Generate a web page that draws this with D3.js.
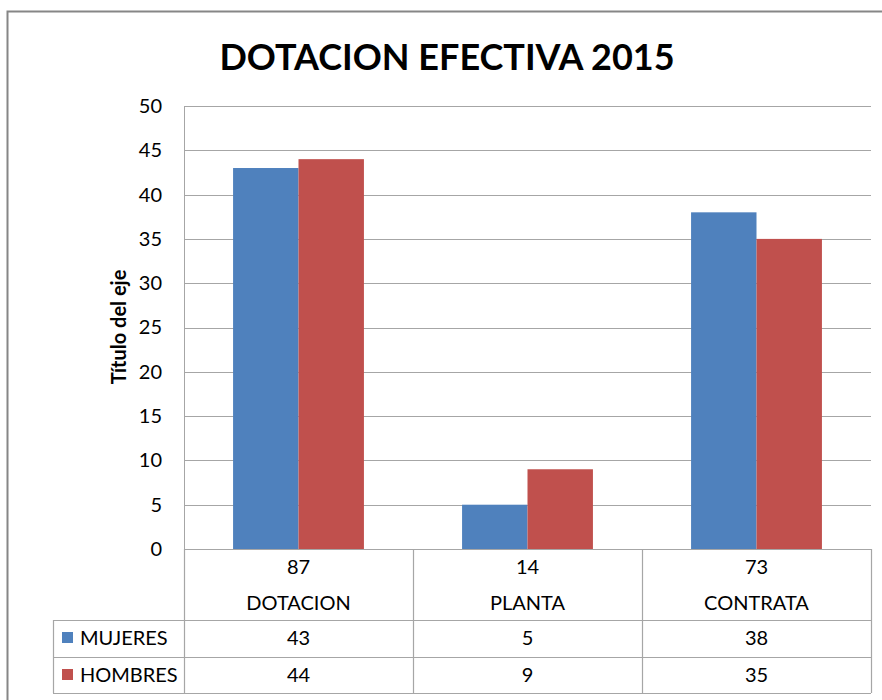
<!DOCTYPE html>
<html>
<head>
<meta charset="utf-8">
<script src="https://cdn.jsdelivr.net/npm/d3@7"></script>
<style>
  body { margin: 0; background: #fff; }
  text { font-family: Lato, "Open Sans", sans-serif; fill: #000; }
</style>
</head>
<body>
<svg></svg>
<script>
const categories = ['DOTACION', 'PLANTA', 'CONTRATA'];
const totals = [87, 14, 73];
const seriesNames = ['MUJERES', 'HOMBRES'];
const mujeres = [43, 5, 38];
const hombres = [44, 9, 35];
const yTicks = [0, 5, 10, 15, 20, 25, 30, 35, 40, 45, 50];
const colors = ['#4F81BD', '#C0504D'];

const W = 882, H = 700;
const plot = {l: 184, r: 871, t: 106, b: 549};
const rows = {head: 620, r1: 657, r2: 693, legL: 53};

const svg = d3.select('svg')
    .attr('width', W)
    .attr('height', H);

// outer frame
svg.append('rect')
    .attr('x', 7.5).attr('y', 11.5)
    .attr('width', W + 10).attr('height', H + 10)
    .attr('fill', 'none')
    .attr('stroke', '#868686')
    .attr('stroke-width', 2);

svg.append('text')
    .attr('x', 447).attr('y', 70)
    .attr('text-anchor', 'middle')
    .style('font-size', '36px')
    .style('font-weight', 'bold')
    .text('DOTACION EFECTIVA 2015');

const scaleY = d3.scaleLinear()
    .domain([0, 50])
    .range([plot.b, plot.t]);

const scaleX = d3.scaleBand()
    .domain(categories)
    .range([plot.l, plot.r]);

const scaleS = d3.scaleBand()
    .domain(seriesNames)
    .range([0, scaleX.bandwidth()])
    .paddingOuter(0.75);

// gridlines
svg.append('g')
    .selectAll('line')
    .data(yTicks)
    .join('line')
    .attr('x1', plot.l).attr('x2', plot.r)
    .attr('y1', d => Math.round(scaleY(d)) + 0.5)
    .attr('y2', d => Math.round(scaleY(d)) + 0.5)
    .attr('stroke', '#a6a6a6')
    .attr('stroke-width', 1.2);

svg.append('line')
    .attr('x1', plot.l + 0.5).attr('x2', plot.l + 0.5)
    .attr('y1', plot.t).attr('y2', plot.b)
    .attr('stroke', '#a6a6a6');

// y axis labels
let axisY = d3.axisLeft(scaleY).tickValues(yTicks).tickSize(0).tickPadding(22);
let axisYG = svg.append('g')
    .attr('transform', `translate(${plot.l}, 0)`)
    .call(axisY);
axisYG.select('.domain').remove();
axisYG.selectAll('text')
    .style('font-family', 'Lato, sans-serif')
    .style('font-size', '20px')
    .attr('fill', '#000');

svg.append('text')
    .attr('transform', `translate(126, 327) rotate(-90)`)
    .attr('text-anchor', 'middle')
    .style('font-size', '20px')
    .style('font-weight', 'bold')
    .text('Título del eje');

// bars
const series = [mujeres, hombres];
series.forEach((vals, si) => {
    svg.append('g')
        .selectAll('rect')
        .data(categories)
        .join('rect')
        .attr('x', (c) => scaleX(c) + scaleS(seriesNames[si]))
        .attr('width', scaleS.bandwidth())
        .attr('y', (c, i) => scaleY(vals[i]))
        .attr('height', (c, i) => plot.b - scaleY(vals[i]))
        .attr('fill', colors[si]);
});

// data table
const grid = svg.append('g')
    .attr('stroke', '#a6a6a6')
    .attr('stroke-width', 1.2);
grid.append('line').attr('x1', plot.l).attr('x2', plot.r).attr('y1', plot.b + 0.5).attr('y2', plot.b + 0.5);
[rows.head, rows.r1, rows.r2].forEach(y => {
    grid.append('line').attr('x1', rows.legL).attr('x2', plot.r).attr('y1', y + 0.5).attr('y2', y + 0.5);
});
grid.append('line').attr('x1', rows.legL + 0.5).attr('x2', rows.legL + 0.5).attr('y1', rows.head).attr('y2', rows.r2);
categories.concat(['end']).forEach((c, i) => {
    const x = i < categories.length ? scaleX(c) : plot.r;
    grid.append('line').attr('x1', x + 0.5).attr('x2', x + 0.5).attr('y1', plot.b).attr('y2', rows.r2);
});

const tbl = svg.append('g')
    .attr('text-anchor', 'middle')
    .style('font-size', '20px');
categories.forEach((c, i) => {
    const cx = scaleX(c) + scaleX.bandwidth() / 2;
    tbl.append('text').attr('x', cx).attr('y', 574).text(totals[i]);
    tbl.append('text').attr('x', cx).attr('y', 610).text(c);
    tbl.append('text').attr('x', cx).attr('y', 645).text(mujeres[i]);
    tbl.append('text').attr('x', cx).attr('y', 682).text(hombres[i]);
});

seriesNames.forEach((s, i) => {
    const yTop = i === 0 ? rows.head : rows.r1;
    svg.append('rect')
        .attr('x', 62).attr('y', yTop + 12)
        .attr('width', 11).attr('height', 11)
        .attr('fill', colors[i]);
    svg.append('text')
        .attr('x', 80).attr('y', yTop + 25)
        .style('font-size', '20px')
        .text(s);
});
</script>
</body>
</html>
